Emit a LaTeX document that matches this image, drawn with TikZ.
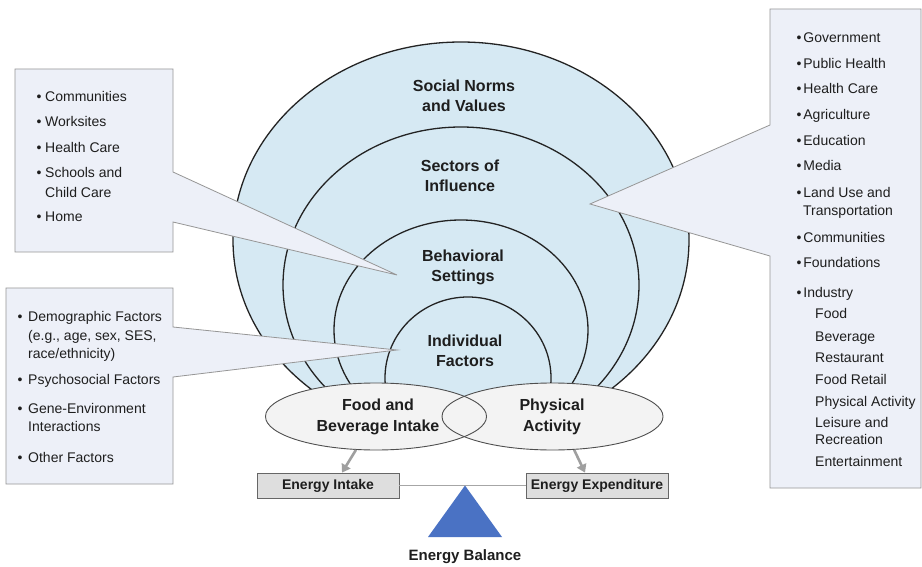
\documentclass[tikz,border=0pt]{standalone}
\usepackage{fontspec}
\setmainfont{Liberation Sans}
\usetikzlibrary{shapes.geometric,arrows.meta}
\definecolor{ringblue}{RGB}{214,233,243}
\definecolor{boxfill}{RGB}{237,240,248}
\definecolor{boxline}{RGB}{150,150,150}
\definecolor{ringline}{RGB}{35,35,35}
\definecolor{ellfill}{RGB}{243,243,243}
\definecolor{enbox}{RGB}{222,222,222}
\definecolor{balblue}{RGB}{74,114,196}
\definecolor{txt}{RGB}{30,30,30}
\tikzset{
  lst/.style={anchor=base west, inner sep=0pt, text=txt, font=\fontsize{14}{17}\selectfont},
  ring/.style={fill=ringblue, draw=ringline, line width=1.3pt},
  ringlabel/.style={align=center, text=txt, font=\bfseries\fontsize{16}{20}\selectfont},
  callout/.style={fill=boxfill, draw=boxline, line width=0.8pt},
  ellnode/.style={ellipse, draw=ringline!80, line width=0.9pt, minimum width=221pt, minimum height=67pt, align=center, text=txt, font=\bfseries\fontsize{16}{21}\selectfont},
  enbox/.style={rectangle, fill=enbox, draw=gray!80!black, line width=0.8pt, minimum width=142pt, minimum height=25pt, inner sep=0pt, text=txt, font=\bfseries\fontsize{14}{16}\selectfont},
  grayarrow/.style={draw=gray!75, line width=2.6pt, -{Triangle[length=8pt,width=10pt]}}
}
\begin{document}
\begin{tikzpicture}[x=1pt,y=-1pt]
\useasboundingbox (0,0) rectangle (922,567);
\fill[white] (0,0) rectangle (922,567);
% nested rings
\begin{scope}
  \clip (0,0) rectangle (922,412);
  \path[ring] (461,240) ellipse [x radius=228pt, y radius=198pt];
  \path[ring] (461,285) ellipse [x radius=178pt, y radius=158pt];
  \path[ring] (461,330) ellipse [x radius=127pt, y radius=110pt];
  \path[ring] (468,378) ellipse [x radius=83pt, y radius=81pt];
\end{scope}
\node[ringlabel] (lsoc) at (464,96) {Social Norms\\and Values};
\node[ringlabel] (lsec) at (460,176) {Sectors of\\Influence};
\node[ringlabel] (lbeh) at (463,267) {Behavioral\\Settings};
\node[ringlabel] (lind) at (465,351) {Individual\\Factors};
% callouts
\path[callout] (15,69) -- (173,69) -- (173,172) -- (397,275) -- (173,222) -- (173,252) -- (15,252) -- cycle;
\path[callout] (6,288) -- (173,288) -- (173,327) -- (397,350) -- (173,377) -- (173,484) -- (6,484) -- cycle;
\path[callout] (770,9) -- (921,9) -- (921,488) -- (770,488) -- (770,256) -- (590,204) -- (770,125) -- cycle;
% top-left list
\node[lst] (a1) at (36.5,102) {•\hspace{3.6pt}Communities};
\node[lst] (a2) at (36.5,127) {•\hspace{3.6pt}Worksites};
\node[lst] (a3) at (36.5,153) {•\hspace{3.6pt}Health Care};
\node[lst] (a4) at (36.5,178) {•\hspace{3.6pt}Schools and};
\node[lst] (a5) at (45,197) {Child Care};
\node[lst] (a6) at (36.5,222) {•\hspace{3.6pt}Home};
% lower-left list
\node[lst] (b1) at (17.5,321) {•\hspace{5.6pt}Demographic Factors};
\node[lst] (b2) at (28,340) {(e.g., age, sex, SES,};
\node[lst] (b3) at (28,358) {race/ethnicity)};
\node[lst] (b4) at (17.5,384) {•\hspace{5.6pt}Psychosocial Factors};
\node[lst] (b5) at (17.5,413) {•\hspace{5.6pt}Gene-Environment};
\node[lst] (b6) at (28,431) {Interactions};
\node[lst] (b7) at (17.5,462) {•\hspace{5.6pt}Other Factors};
% right list
\node[lst] (c1) at (796.5,43) {•\hspace{1.8pt}Government};
\node[lst] (c2) at (796.5,69) {•\hspace{1.8pt}Public Health};
\node[lst] (c3) at (796.5,94) {•\hspace{1.8pt}Health Care};
\node[lst] (c4) at (796.5,120) {•\hspace{1.8pt}Agriculture};
\node[lst] (c5) at (796.5,146) {•\hspace{1.8pt}Education};
\node[lst] (c6) at (796.5,171) {•\hspace{1.8pt}Media};
\node[lst] (c7) at (796.5,197) {•\hspace{1.8pt}Land Use and};
\node[lst] (c8) at (803,216) {Transportation};
\node[lst] (c9) at (796.5,243) {•\hspace{1.8pt}Communities};
\node[lst] (c10) at (796.5,268) {•\hspace{1.8pt}Foundations};
\node[lst] (c11) at (796.5,297) {•\hspace{1.8pt}Industry};
\node[lst] (c12) at (815,318) {Food};
\node[lst] (c13) at (815,341) {Beverage};
\node[lst] (c14) at (815,362) {Restaurant};
\node[lst] (c15) at (815,384) {Food Retail};
\node[lst] (c16) at (815,406) {Physical Activity};
\node[lst] (c17) at (815,427) {Leisure and};
\node[lst] (c18) at (815,444) {Recreation};
\node[lst] (c19) at (815,466) {Entertainment};
% food / physical ellipses
\fill[ellfill] (376,416.5) ellipse [x radius=110.5pt, y radius=33.5pt];
\fill[ellfill] (552.5,416.5) ellipse [x radius=110.5pt, y radius=33.5pt];
\node[ellnode] (food) at (376,416.5) {};
\node[ellnode] (phys) at (552.5,416.5) {};
\node[align=center, text=txt, font=\bfseries\fontsize{16}{21}\selectfont] (foodt) at (378,416.5) {Food and\\Beverage Intake};
\node[align=center, text=txt, font=\bfseries\fontsize{16}{21}\selectfont] (physt) at (552,416.5) {Physical\\Activity};
% energy boxes
\node[enbox] (intake) at (328,485.5) {Energy Intake};
\node[enbox] (expend) at (597,485.5) {Energy Expenditure};
\draw[grayarrow] (food.239) -- ([xshift=14pt]intake.north);
\draw[grayarrow] (phys.303) -- ([xshift=-12pt]expend.north);
% balance
\coordinate (apex) at (465,485.5);
\draw[gray!70, line width=1pt] (intake.east) -- (expend.west);
\fill[balblue] (apex) -- (502,537) -- (428,537) -- cycle;
\node[text=txt, font=\bfseries\fontsize{15}{18}\selectfont] (bal) at (465,557) {Energy Balance};
\end{tikzpicture}
\end{document}
